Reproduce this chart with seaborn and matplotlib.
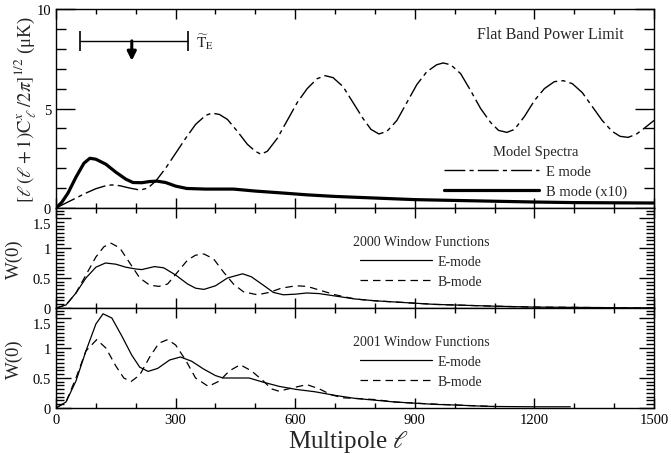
import matplotlib
matplotlib.use('Agg')
import matplotlib.pyplot as plt
from matplotlib.ticker import MultipleLocator
import seaborn as sns

# ---- model spectra (top panel) ----
ell_E = [0, 25, 50, 75, 100, 125, 140, 160, 185, 211, 230, 250, 275, 300, 325, 350, 375, 391,
         410, 430, 455, 480, 500, 514, 530, 555, 580, 605, 630, 655, 675, 695, 720, 745, 770,
         790, 810, 830, 855, 880, 905, 930, 955, 971, 990, 1015, 1040, 1065, 1090, 1110, 1131,
         1150, 1175, 1200, 1225, 1250, 1272, 1295, 1320, 1345, 1370, 1395, 1415, 1435, 1455,
         1475, 1500]
E_mode = [0, 0.25, 0.5, 0.75, 0.97, 1.12, 1.16, 1.12, 1.0, 0.9, 1.0, 1.35, 2.0, 2.75, 3.5, 4.2,
          4.65, 4.77, 4.7, 4.45, 3.85, 3.2, 2.85, 2.7, 2.85, 3.5, 4.4, 5.3, 6.0, 6.5, 6.65, 6.55,
          6.1, 5.3, 4.5, 3.95, 3.72, 3.85, 4.4, 5.3, 6.2, 6.85, 7.2, 7.29, 7.2, 6.75, 5.9, 5.0,
          4.3, 3.9, 3.8, 3.95, 4.6, 5.4, 6.0, 6.35, 6.4, 6.25, 5.8, 5.1, 4.4, 3.85, 3.6, 3.55,
          3.7, 4.0, 4.4]

ell_B = [0, 15, 30, 50, 70, 85, 100, 125, 150, 175, 193, 215, 235, 253, 275, 300, 328, 375, 445,
         500, 570, 630, 700, 800, 900, 1000, 1100, 1200, 1300, 1400, 1500]
B_mode_x10 = [0, 0.3, 0.75, 1.55, 2.25, 2.5, 2.45, 2.2, 1.8, 1.45, 1.28, 1.27, 1.33, 1.35, 1.28,
              1.1, 0.98, 0.95, 0.95, 0.85, 0.75, 0.66, 0.58, 0.5, 0.42, 0.38, 0.34, 0.3, 0.27,
              0.26, 0.25]

# flat band power limit
band_lo, band_hi = 60, 330
band_center = 190
band_limit = 8.4
band_arrow_end = 7.4

# ---- 2000 window functions ----
ell_w00_E = [0, 25, 50, 75, 100, 124, 150, 175, 200, 215, 247, 270, 300, 330, 350, 371, 400, 430,
             468, 490, 520, 545, 570, 600, 629, 660, 700, 750, 800, 850, 900, 950, 1000, 1050,
             1100, 1200, 1300, 1400, 1500]
w00_E = [0, 0.05, 0.25, 0.5, 0.68, 0.75, 0.73, 0.68, 0.65, 0.64, 0.69, 0.67, 0.55, 0.4, 0.33,
         0.31, 0.37, 0.5, 0.57, 0.52, 0.38, 0.26, 0.22, 0.23, 0.25, 0.24, 0.2, 0.15, 0.12, 0.1,
         0.08, 0.06, 0.05, 0.04, 0.03, 0.015, 0.01, 0.005, 0]

ell_w00_B = [0, 25, 50, 75, 100, 120, 138, 160, 185, 210, 235, 258, 280, 305, 330, 350, 371, 395,
             420, 445, 470, 505, 535, 565, 602, 630, 660, 700, 750, 800, 850, 900, 950, 1000,
             1100, 1200, 1300, 1500]
w00_B = [0, 0.05, 0.25, 0.55, 0.85, 1.02, 1.08, 1.0, 0.75, 0.5, 0.38, 0.36, 0.4, 0.6, 0.8, 0.88,
         0.9, 0.82, 0.6, 0.4, 0.27, 0.22, 0.26, 0.33, 0.37, 0.36, 0.3, 0.22, 0.15, 0.12, 0.1,
         0.08, 0.06, 0.05, 0.03, 0.015, 0.01, 0]

# ---- 2001 window functions ----
ell_w01_E = [0, 25, 50, 75, 100, 118, 140, 165, 190, 210, 231, 255, 285, 312, 340, 370, 400, 419,
             450, 484, 520, 560, 602, 650, 700, 750, 800, 850, 900, 950, 1000, 1050, 1100, 1200,
             1290]
w01_E = [0, 0.1, 0.45, 0.95, 1.4, 1.57, 1.5, 1.2, 0.88, 0.68, 0.61, 0.66, 0.8, 0.85, 0.78, 0.65,
         0.54, 0.5, 0.5, 0.5, 0.43, 0.36, 0.31, 0.27, 0.21, 0.16, 0.13, 0.1, 0.08, 0.06, 0.05,
         0.035, 0.025, 0.02, 0.02]

ell_w01_B = [0, 25, 50, 75, 102, 125, 150, 170, 188, 210, 235, 258, 280, 300, 325, 350, 382, 410,
             435, 462, 490, 520, 540, 559, 590, 629, 660, 690, 720, 750, 800, 850, 900, 1000, 1100]
w01_B = [0, 0.1, 0.5, 0.95, 1.14, 1.0, 0.7, 0.5, 0.44, 0.55, 0.85, 1.08, 1.14, 1.05, 0.8, 0.5,
         0.36, 0.45, 0.62, 0.72, 0.62, 0.45, 0.32, 0.28, 0.33, 0.39, 0.32, 0.22, 0.17, 0.16,
         0.14, 0.1, 0.08, 0.05, 0.025]

top_yticks = [0, 5, 10]
win_yticks = [0, 0.5, 1, 1.5]


sns.set_style('ticks')
plt.rcParams['font.family'] = ['Liberation Serif', 'DejaVu Serif']
plt.rcParams['mathtext.fontset'] = 'stix'
plt.rcParams['axes.linewidth'] = 1.0

fig = plt.figure(figsize=(6.71, 4.56), dpi=100)
ax0 = fig.add_axes([0.0835, 0.5417, 0.8912, 0.4363])
ax1 = fig.add_axes([0.0835, 0.3224, 0.8912, 0.2193])
ax2 = fig.add_axes([0.0835, 0.1031, 0.8912, 0.2193])

E_DASH = (0, (15, 3, 3, 3))
W_DASH = (0, (6, 4))


def draw(ax, x, y, **kw):
    sns.lineplot(x=x, y=y, ax=ax, color='k', estimator=None, sort=False, legend=False, **kw)
    return ax.lines[-1]


def style_axis(ax, ymax, yticks, ymin, ymaj_len, ymin_len):
    ax.set_xlim(0, 1500)
    ax.set_ylim(0, ymax)
    ax.xaxis.set_major_locator(MultipleLocator(300))
    ax.xaxis.set_minor_locator(MultipleLocator(100))
    ax.set_yticks(yticks, [f'{v:g}' for v in yticks])
    ax.yaxis.set_minor_locator(MultipleLocator(ymin))
    ax.tick_params(which='both', direction='in', top=True, right=True, width=1,
                   labelsize=10.5, colors='k')
    ax.tick_params(axis='x', which='major', length=7)
    ax.tick_params(axis='x', which='minor', length=3.5)
    ax.tick_params(axis='y', which='major', length=ymaj_len)
    ax.tick_params(axis='y', which='minor', length=ymin_len)
    for s in ax.spines.values():
        s.set_visible(True)
        s.set_color('k')


# --- top panel ---
lE = draw(ax0, ell_E, E_mode, lw=1.0, linestyle=E_DASH)
lB = draw(ax0, ell_B, B_mode_x10, lw=2.3)
style_axis(ax0, 10, top_yticks, 1, 14, 7)
ax0.tick_params(labelbottom=False)

eb = ax0.errorbar((band_lo + band_hi) / 2, band_limit, xerr=(band_hi - band_lo) / 2,
                  fmt='none', ecolor='k', elinewidth=1, capsize=7.5, capthick=1.2)
for cap in eb[1]:
    cap.set_color('0.4')
ax0.annotate('', xy=(band_center, band_arrow_end), xytext=(band_center, band_limit),
             arrowprops=dict(arrowstyle='-|>', lw=2.2, color='k', mutation_scale=13,
                             shrinkA=0, shrinkB=0))
ax0.text(350, band_limit, r'$\widetilde{\mathrm{T}}_{\mathrm{E}}$', fontsize=11,
         va='center', ha='left')
ax0.text(0.95, 0.874, 'Flat Band Power Limit', fontsize=11.5, ha='right', va='center',
         transform=ax0.transAxes)
ax0.legend([lE, lB], ['E mode', 'B mode (x10)'], title='Model Spectra', frameon=False,
           loc='lower right', bbox_to_anchor=(0.955, 0.05), borderaxespad=0, borderpad=0,
           handlelength=6.5, handletextpad=0.5, fontsize=10.5, title_fontsize=10.5,
           labelspacing=0.45)
ax0.set_ylabel(r'$[\ell\,(\ell+1)\mathrm{C}^{x}_{\;\ell}\,/2\pi]^{1/2}$ (μK)', fontsize=13.5)
ax0.yaxis.set_label_coords(-0.029, 0.5)

# --- 2000 window functions ---
a = draw(ax1, ell_w00_E, w00_E, lw=0.9)
b = draw(ax1, ell_w00_B, w00_B, lw=0.9, linestyle=W_DASH)
style_axis(ax1, 1.667, win_yticks, 0.0625, 11, 6)
ax1.tick_params(labelbottom=False)
ax1.legend([a, b], ['E-mode', 'B-mode'], title='2000 Window Functions', frameon=False,
           loc='lower right', bbox_to_anchor=(0.725, 0.2), borderaxespad=0, borderpad=0,
           handlelength=5.2, handletextpad=0.4, fontsize=10, title_fontsize=10,
           labelspacing=0.5)
ax1.set_ylabel('W(0)', fontsize=13.5)
ax1.yaxis.set_label_coords(-0.056, 0.5)

# --- 2001 window functions ---
a = draw(ax2, ell_w01_E, w01_E, lw=0.9)
b = draw(ax2, ell_w01_B, w01_B, lw=0.9, linestyle=W_DASH)
style_axis(ax2, 1.667, win_yticks, 0.0625, 11, 6)
ax2.legend([a, b], ['E-mode', 'B-mode'], title='2001 Window Functions', frameon=False,
           loc='lower right', bbox_to_anchor=(0.725, 0.2), borderaxespad=0, borderpad=0,
           handlelength=5.2, handletextpad=0.4, fontsize=10, title_fontsize=10,
           labelspacing=0.5)
ax2.set_ylabel('W(0)', fontsize=13.5)
ax2.yaxis.set_label_coords(-0.056, 0.5)
ax2.set_xlabel(r'Multipole $\ell$', fontsize=18)
ax2.xaxis.set_label_coords(0.49, -0.2)

# the "1.5" labels sit just below the tick, as in the original
for ax in (ax1, ax2):
    ax.yaxis.get_major_ticks()[-1].label1.set_verticalalignment('top')

fig.savefig('out.png', dpi=100)
